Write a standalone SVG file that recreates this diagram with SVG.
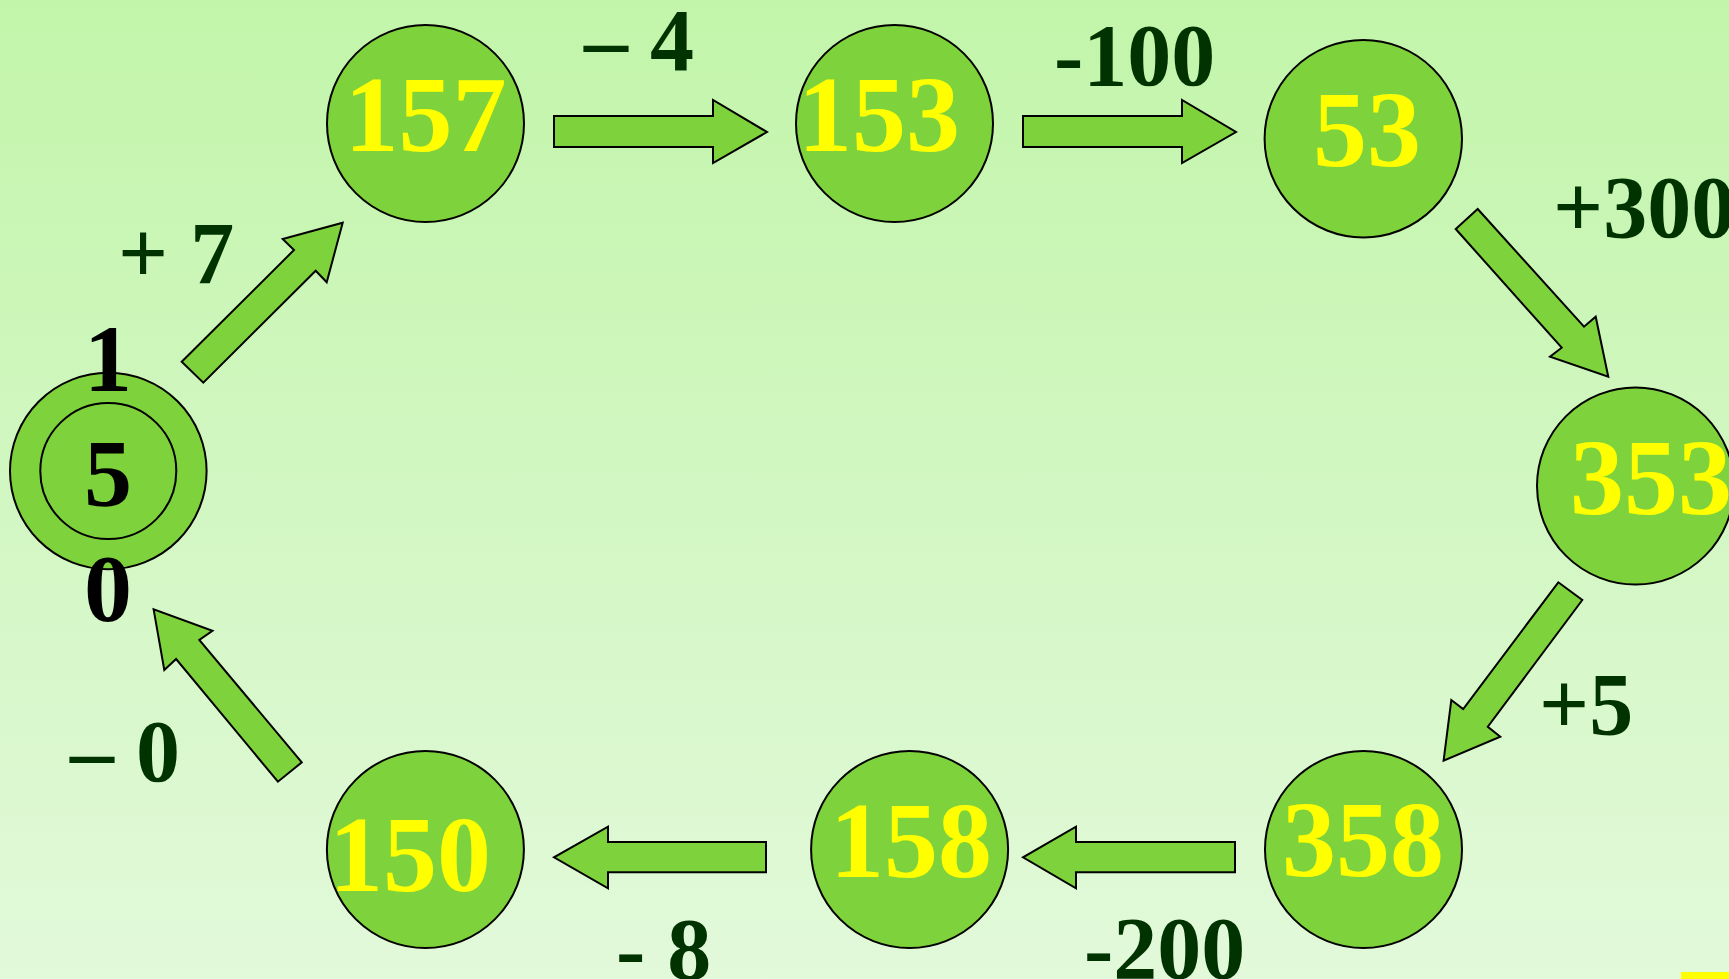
<svg xmlns="http://www.w3.org/2000/svg" width="1729" height="979" viewBox="0 0 1729 979">
<defs>
<linearGradient id="bg" x1="0" y1="0" x2="0" y2="1">
<stop offset="0" stop-color="#c2f5aa"/>
<stop offset="1" stop-color="#e2f9da"/>
</linearGradient>
<style>
.node{fill:#7ed23c;stroke:#000;stroke-width:2}
.arr{fill:#7ed23c;stroke:#000;stroke-width:2;stroke-linejoin:miter}
.num{font-family:"Liberation Serif","Times New Roman",serif;font-weight:bold;font-size:108px;fill:#ffff00}
.blk{font-family:"Liberation Serif","Times New Roman",serif;font-weight:bold;font-size:96px;fill:#000;text-anchor:middle}
.lbl{font-family:"Liberation Serif","Times New Roman",serif;font-weight:bold;font-size:88px;fill:#003300}
</style>
</defs>
<rect x="0" y="0" width="1729" height="979" fill="url(#bg)"/>
<rect x="1681" y="972" width="48" height="7" fill="#ffff00"/>

<g id="connectors">
<polygon class="arr" points="181.7,361.7 294,250 282.7,239 342.7,222.7 326.7,282.3 315.7,270.7 203.3,382.7"/>
<polygon class="arr" points="554,116 713,116 713,100 767,132 713,163 713,147 554,147"/>
<polygon class="arr" points="1023,116 1182,116 1182,100 1236,132 1182,163 1182,147 1023,147"/>
<polygon class="arr" points="1477.7,209 1584,326.7 1595.7,316.7 1608.3,376.7 1550,356.7 1561.7,347.7 1455.7,229"/>
<polygon class="arr" points="1582.3,600 1487.8,726.7 1500.3,736.7 1443.6,760.7 1451.3,700 1463.2,709 1558.3,582.3"/>
<polygon class="arr" points="1235,842 1076,842 1076,826.7 1023,857.3 1076,888.3 1076,872.3 1235,872.3"/>
<polygon class="arr" points="766,842 608,842 608,826.7 554,857.3 608,888.3 608,872.3 766,872.3"/>
<polygon class="arr" points="301.8,762.3 199.3,640 212.5,630.7 153.6,609.3 164.3,670 176.1,659 277.9,781.7"/>
</g>

<g id="labels">
<text class="lbl" x="118" y="283">+ 7</text>
<text class="lbl" x="584" y="70">– 4</text>
<text class="lbl" x="1054" y="85">-100</text>
<text class="lbl" x="1553" y="237">+300</text>
<text class="lbl" x="1539" y="734">+5</text>
<text class="lbl" x="1084" y="978">-200</text>
<text class="lbl" x="616" y="979">- 8</text>
<text class="lbl" x="70" y="781">– 0</text>
</g>

<g id="node-150-start">
<circle class="node" cx="108.3" cy="471" r="98.3"/>
<circle class="node" cx="108.3" cy="471" r="68"/>
<text class="blk" x="108" y="391">1</text>
<text class="blk" x="108" y="506">5</text>
<text class="blk" x="108" y="621">0</text>
</g>
<g id="node-157">
<circle class="node" cx="425.5" cy="123.5" r="98.5"/>
<text class="num" x="344.5" y="151">157</text>
</g>
<g id="node-153">
<circle class="node" cx="894.5" cy="123.5" r="98.5"/>
<text class="num" x="798" y="151">153</text>
</g>
<g id="node-53">
<circle class="node" cx="1363.3" cy="138.7" r="98.7"/>
<text class="num" x="1313" y="166">53</text>
</g>
<g id="node-353">
<circle class="node" cx="1635.5" cy="486" r="98.5"/>
<text class="num" x="1570" y="514">353</text>
</g>
<g id="node-358">
<circle class="node" cx="1363.5" cy="849.5" r="98.5"/>
<text class="num" x="1282" y="876">358</text>
</g>
<g id="node-158">
<circle class="node" cx="909.6" cy="849.5" r="98.5"/>
<text class="num" x="830" y="877">158</text>
</g>
<g id="node-150">
<circle class="node" cx="425.4" cy="849.5" r="98.5"/>
<text class="num" x="329" y="891">150</text>
</g>
</svg>
